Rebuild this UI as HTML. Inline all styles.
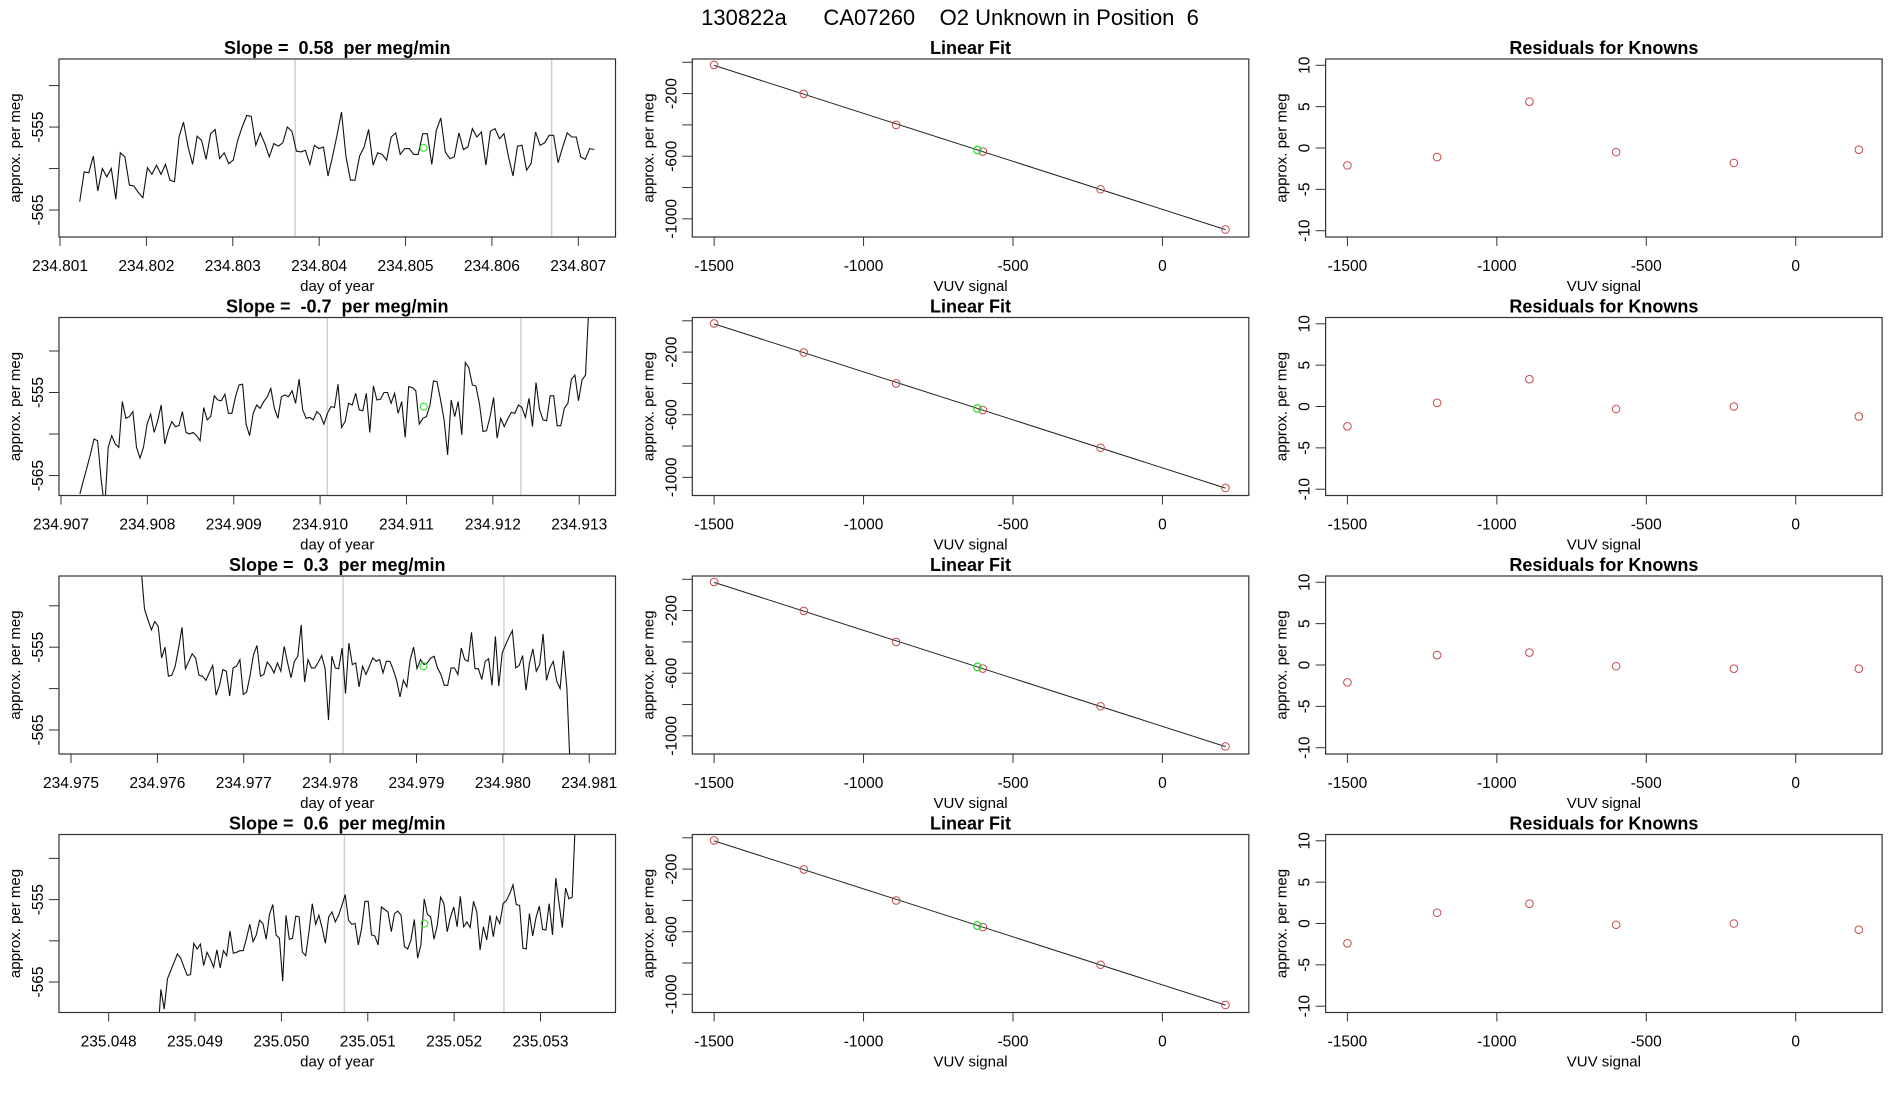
<!DOCTYPE html>
<html><head><meta charset="utf-8"><style>
html,body{margin:0;padding:0;background:#fff;}
svg{display:block;font-family:"Liberation Sans",sans-serif;}
text{white-space:pre;}
</style></head><body>
<svg id="fig" width="1900" height="1100" viewBox="0 0 1900 1100" xmlns="http://www.w3.org/2000/svg">
<text x="950" y="25" font-size="22" text-anchor="middle" style="white-space:pre">130822a      CA07260    O2 Unknown in Position  6</text>
</svg>
<script>
// ---------- data ----------
const slopeTitles = ["Slope =  0.58  per meg/min","Slope =  -0.7  per meg/min","Slope =  0.3  per meg/min","Slope =  0.6  per meg/min"];
const tsStart = [234.801228, 234.907219, 234.975812, 235.048567];
const tsEnd = [234.807185, 234.913114, 234.980781, 235.053405];
const tsXlimMin = [234.800988, 234.906977, 234.974861, 235.047425];
const tsXlimMax = [234.807431, 234.913420, 234.981304, 235.053868];
const tsYlimMin = [-568.25, -567.4, -567.9, -568.7];
const tsYlimMax = [-546.8, -545.97, -546.4, -547.1];
const tsXTicks1 = ["234.801","234.802","234.803","234.804","234.805","234.806","234.807"];
const tsXTicks2 = ["234.907","234.908","234.909","234.910","234.911","234.912","234.913"];
const tsXTicks3 = ["234.975","234.976","234.977","234.978","234.979","234.980","234.981"];
const tsXTicks4 = ["235.048","235.049","235.050","235.051","235.052","235.053"];
const tsYTicks = [-550,-555,-560,-565];
const tsYTickLabels = ["","-555","","-565"];
const greyLines1 = [234.803722, 234.806691];
const greyLines2 = [234.910083, 234.912325];
const greyLines3 = [234.978150, 234.980012];
const greyLines4 = [235.050729, 235.052576];
const greenT = [234.805209, 234.911200, 234.979081, 235.051657];
const greenV = [-557.5, -556.7, -557.3, -557.9];
const tsValues1 = [-564.0,-560.4,-560.5,-558.5,-562.7,-560.0,-561.0,-560.0,-563.7,-558.1,-558.6,-562.0,-562.1,-562.9,-563.5,-559.9,-560.7,-559.6,-560.7,-559.5,-561.4,-561.6,-556.2,-554.4,-557.4,-559.5,-556.1,-556.6,-558.9,-555.8,-555.3,-558.8,-558.1,-559.4,-559.0,-556.6,-555.0,-553.6,-553.7,-557.2,-555.7,-557.0,-558.6,-557.0,-557.3,-556.9,-555.0,-555.5,-557.9,-558.0,-557.8,-559.5,-557.2,-557.6,-557.4,-560.9,-558.6,-556.0,-553.2,-558.6,-561.4,-561.4,-558.5,-557.4,-555.3,-559.6,-558.1,-558.3,-559.0,-556.2,-555.7,-558.3,-557.6,-557.6,-558.3,-558.3,-555.8,-555.8,-559.5,-555.4,-553.9,-558.0,-558.8,-558.6,-555.7,-557.7,-557.4,-555.2,-556.2,-555.6,-559.6,-555.5,-555.2,-556.4,-555.8,-558.6,-560.9,-557.3,-557.2,-560.2,-559.4,-555.6,-557.2,-556.9,-556.0,-556.0,-559.3,-557.4,-555.7,-556.2,-556.2,-558.6,-558.9,-557.6,-557.7];
const tsValues2 = [-567.2,-565.6,-564.0,-562.4,-560.6,-560.8,-565.4,-569.0,-561.6,-560.2,-561.2,-561.6,-556.1,-558.1,-557.9,-557.3,-561.6,-562.9,-561.6,-558.8,-557.6,-559.8,-558.4,-556.5,-561.2,-559.6,-558.5,-559.1,-559.0,-557.3,-559.8,-560.0,-559.8,-560.2,-560.8,-556.8,-558.3,-557.9,-555.4,-555.9,-556.0,-555.2,-557.5,-557.5,-555.5,-554.1,-554.0,-558.8,-560.2,-557.5,-556.5,-556.9,-556.1,-555.5,-554.5,-556.9,-558.1,-555.5,-555.3,-555.5,-554.8,-556.3,-553.4,-557.1,-558.1,-558.0,-558.3,-557.3,-557.7,-558.8,-557.5,-556.7,-556.8,-554.0,-559.2,-558.5,-556.3,-556.5,-555.1,-557.1,-557.2,-555.1,-559.8,-554.2,-555.9,-555.8,-555.0,-555.0,-556.3,-555.1,-557.5,-556.1,-560.4,-554.3,-554.4,-554.8,-558.8,-558.1,-557.9,-556.5,-553.6,-553.7,-555.9,-558.3,-562.5,-555.9,-557.9,-556.1,-560.1,-551.4,-552.0,-554.1,-554.2,-556.4,-559.7,-559.6,-557.9,-555.6,-560.5,-558.1,-559.1,-558.2,-557.4,-557.5,-556.5,-556.8,-558.0,-555.7,-559.1,-553.8,-557.1,-558.3,-558.4,-555.4,-555.4,-559.0,-559.0,-556.9,-556.3,-553.4,-552.9,-556.0,-553.5,-552.9,-544.0];
const tsValues3 = [-545.5,-550.4,-551.7,-552.9,-551.9,-552.5,-556.3,-555.0,-558.5,-558.4,-557.3,-555.1,-552.6,-557.6,-556.7,-555.8,-556.3,-558.4,-558.5,-559.0,-558.1,-557.2,-560.8,-559.6,-557.7,-557.9,-560.9,-557.5,-557.3,-556.5,-560.7,-560.4,-558.4,-555.9,-554.8,-558.5,-558.3,-556.8,-557.3,-558.1,-556.9,-557.9,-554.9,-556.9,-558.7,-556.7,-556.1,-552.3,-559.2,-556.5,-557.5,-557.5,-556.8,-556.0,-557.6,-563.8,-556.1,-557.5,-557.6,-555.1,-560.6,-554.5,-557.1,-556.9,-559.8,-557.3,-558.3,-557.3,-556.3,-556.7,-556.5,-558.1,-556.7,-556.7,-557.7,-559.0,-561.0,-559.0,-559.8,-556.5,-555.0,-557.6,-556.5,-557.1,-556.9,-556.3,-556.1,-557.5,-558.3,-559.6,-559.6,-557.5,-557.5,-558.3,-555.1,-556.5,-556.7,-553.2,-557.6,-557.6,-558.9,-556.7,-556.4,-559.6,-553.7,-559.7,-555.7,-554.7,-553.8,-553.0,-557.5,-557.2,-556.0,-560.2,-556.9,-555.2,-557.9,-557.1,-553.4,-559.0,-557.5,-556.7,-559.1,-560.0,-555.4,-560.0,-570.0];
const tsValues4 = [-572.0,-565.9,-568.3,-564.6,-563.6,-562.6,-561.6,-562.1,-563.2,-564.2,-564.1,-560.3,-561.0,-560.4,-563.0,-561.4,-562.2,-563.2,-561.1,-563.3,-561.2,-561.8,-558.8,-561.5,-561.4,-561.2,-561.2,-559.7,-558.0,-560.1,-559.3,-557.5,-557.9,-559.8,-556.8,-555.6,-559.3,-559.7,-564.9,-556.9,-559.8,-559.7,-557.0,-557.1,-561.4,-561.8,-558.9,-555.5,-558.0,-556.9,-558.5,-560.3,-557.1,-556.5,-557.7,-556.9,-555.7,-554.4,-557.5,-558.0,-557.9,-560.5,-558.5,-555.2,-555.2,-559.3,-559.4,-560.5,-555.9,-556.2,-556.5,-558.9,-556.7,-556.4,-556.9,-560.7,-561.0,-559.9,-557.4,-562.1,-560.5,-554.9,-556.8,-557.1,-559.8,-558.1,-554.7,-555.5,-558.9,-557.1,-555.9,-558.3,-554.6,-558.3,-557.7,-558.4,-555.2,-556.5,-561.1,-558.3,-559.9,-556.9,-559.5,-557.1,-557.9,-555.5,-555.1,-554.3,-553.2,-555.6,-555.7,-560.9,-561.0,-556.7,-559.4,-557.2,-555.8,-558.6,-558.7,-555.5,-559.3,-552.4,-555.5,-558.4,-553.6,-554.9,-554.7,-545.0];

const fitXlim = [-1573, 289];
const fitYlim = [-1116, 21];
const knownX = [-1500, -1200, -891, -601, -207, 211];
const knownY = [-17, -202, -400, -570, -811, -1068];
const unknownX = [-619, -619, -619, -619];
const unknownY = [-560, -560, -560, -560];
const fitXTicks = [-1500, -1000, -500, 0];
const fitYTicks = [0, -200, -400, -600, -800, -1000];
const fitYTickLabels = ["", "-200", "", "-600", "", "-1000"];
const residuals1 = [-2.1, -1.1, 5.6, -0.5, -1.8, -0.2];
const residuals2 = [-2.4, 0.45, 3.3, -0.3, 0.0, -1.2];
const residuals3 = [-2.1, 1.2, 1.5, -0.15, -0.45, -0.45];
const residuals4 = [-2.4, 1.3, 2.4, -0.15, 0.0, -0.75];
const resYlim = [-10.76, 10.76];
const resYTicks = [10, 5, 0, -5, -10];

// ---------- drawing ----------
const NS = "http://www.w3.org/2000/svg";
const svg = document.getElementById("fig");
function el(tag, parent, attrs) {
  const e = document.createElementNS(NS, tag);
  for (const k in attrs) e.setAttribute(k, attrs[k]);
  parent.appendChild(e);
  return e;
}
function geom(r, c) {
  return { x0: 59 + c * 633.3, y0: 59 + r * 258.5, w: 556.5, h: 178 };
}
function scales(g, xlim, ylim) {
  return {
    sx: v => g.x0 + (v - xlim[0]) / (xlim[1] - xlim[0]) * g.w,
    sy: v => g.y0 + g.h - (v - ylim[0]) / (ylim[1] - ylim[0]) * g.h
  };
}
function frame(grp, g, title, xlabel) {
  const b = el("rect", grp, {x: g.x0, y: g.y0, width: g.w, height: g.h, fill: "none", stroke: "#333", "stroke-width": 1.2});
  
  
  const t = el("text", grp, {x: g.x0 + g.w / 2, y: g.y0 - 5, "font-size": 18, "font-weight": "bold", "text-anchor": "middle", style: "white-space:pre"});
  t.textContent = title;
  
  
  const xl = el("text", grp, {x: g.x0 + g.w / 2, y: g.y0 + g.h + 54, "font-size": 15, "text-anchor": "middle"});
  xl.textContent = xlabel;
  
  
  const cy = g.y0 + g.h / 2;
  const yl = el("text", grp, {x: 0, y: 0, "font-size": 15, "text-anchor": "middle", transform: `translate(${g.x0 - 39},${cy}) rotate(-90)`});
  yl.textContent = "approx. per meg";
  
  
}
function xAxis(grp, g, vals, labels, sx) {
  const a = el("g", grp, {});
  
  
  const y = g.y0 + g.h;
  el("line", a, {x1: sx(vals[0]), x2: sx(vals[vals.length - 1]), y1: y, y2: y, stroke: "#333"});
  vals.forEach((v, i) => {
    el("line", a, {x1: sx(v), x2: sx(v), y1: y, y2: y + 9, stroke: "#333"});
    const t = el("text", a, {x: sx(v), y: y + 34, "font-size": 15.5, "text-anchor": "middle"});
    t.textContent = labels[i];
    
    
  });
}
function yAxis(grp, g, vals, labels, sy) {
  const a = el("g", grp, {});
  
  
  const x = g.x0;
  vals.forEach((v, i) => {
    el("line", a, {x1: x - 10, x2: x, y1: sy(v), y2: sy(v), stroke: "#333"});
    if (labels[i] !== "") {
      const t = el("text", a, {x: 0, y: 0, "font-size": 15.5, "text-anchor": "middle", transform: `translate(${x - 16},${sy(v)}) rotate(-90)`});
      t.textContent = labels[i];
      
      
    }
  });
}

const tsValues = [tsValues1, tsValues2, tsValues3, tsValues4];
const tsXTicks = [tsXTicks1, tsXTicks2, tsXTicks3, tsXTicks4];
const greyLines = [greyLines1, greyLines2, greyLines3, greyLines4];
const residuals = [residuals1, residuals2, residuals3, residuals4];

for (let r = 0; r < 4; r++) {
  const g = geom(r, 0);
  const grp = el("g", svg, {});
  
  
  const s = scales(g, [tsXlimMin[r], tsXlimMax[r]], [tsYlimMin[r], tsYlimMax[r]]);
  const cp = el("clipPath", grp, {id: "clip" + r});
  el("rect", cp, {x: g.x0, y: g.y0, width: g.w, height: g.h});
  greyLines[r].forEach(v => {
    const l = el("line", grp, {x1: s.sx(v), x2: s.sx(v), y1: g.y0, y2: g.y0 + g.h, stroke: "#d0d0d0", "stroke-width": 1.5});
    
    
  });
  const vals = tsValues[r];
  const n = vals.length;
  const pts = vals.map((v, i) => {
    const t = tsStart[r] + (tsEnd[r] - tsStart[r]) * i / (n - 1);
    return s.sx(t).toFixed(1) + "," + s.sy(v).toFixed(1);
  }).join(" ");
  const pl = el("polyline", grp, {points: pts, fill: "none", stroke: "#111", "stroke-width": 1.1, "clip-path": `url(#clip${r})`});
  
  
  const gp = el("circle", grp, {cx: s.sx(greenT[r]), cy: s.sy(greenV[r]), r: 3.5, fill: "none", stroke: "#22e022", "stroke-width": 1});
  
  
  const tickVals = tsXTicks[r].map(Number);
  xAxis(grp, g, tickVals, tsXTicks[r], s.sx);
  yAxis(grp, g, tsYTicks, tsYTickLabels, s.sy);
  frame(grp, g, slopeTitles[r], "day of year");

  const g2 = geom(r, 1);
  const grp2 = el("g", svg, {});
  
  
  const s2 = scales(g2, fitXlim, fitYlim);
  const mx = knownX.reduce((a, b) => a + b, 0) / knownX.length;
  const my = knownY.reduce((a, b) => a + b, 0) / knownY.length;
  let sxy = 0, sxx = 0;
  knownX.forEach((x, i) => { sxy += (x - mx) * (knownY[i] - my); sxx += (x - mx) * (x - mx); });
  const slope = sxy / sxx, icpt = my - slope * mx;
  const x1 = knownX[0], x2 = knownX[knownX.length - 1];
  const fl = el("line", grp2, {x1: s2.sx(x1), y1: s2.sy(icpt + slope * x1), x2: s2.sx(x2), y2: s2.sy(icpt + slope * x2), stroke: "#222", "stroke-width": 1});
  
  
  knownX.forEach((x, i) => {
    const c = el("circle", grp2, {cx: s2.sx(x), cy: s2.sy(knownY[i]), r: 3.8, fill: "none", stroke: "#c84848", "stroke-width": 1});
    
    
  });
  const ug = el("circle", grp2, {cx: s2.sx(unknownX[r]), cy: s2.sy(unknownY[r]), r: 3.8, fill: "none", stroke: "#22e022", "stroke-width": 1.2});
  
  
  xAxis(grp2, g2, fitXTicks, fitXTicks.map(String), s2.sx);
  yAxis(grp2, g2, fitYTicks, fitYTickLabels, s2.sy);
  frame(grp2, g2, "Linear Fit", "VUV signal");

  const g3 = geom(r, 2);
  const grp3 = el("g", svg, {});
  
  
  const s3 = scales(g3, fitXlim, resYlim);
  knownX.forEach((x, i) => {
    const c = el("circle", grp3, {cx: s3.sx(x), cy: s3.sy(residuals[r][i]), r: 3.8, fill: "none", stroke: "#c84848", "stroke-width": 1});
    
    
  });
  xAxis(grp3, g3, fitXTicks, fitXTicks.map(String), s3.sx);
  yAxis(grp3, g3, resYTicks, resYTicks.map(String), s3.sy);
  frame(grp3, g3, "Residuals for Knowns", "VUV signal");
}
</script>
</body></html>
